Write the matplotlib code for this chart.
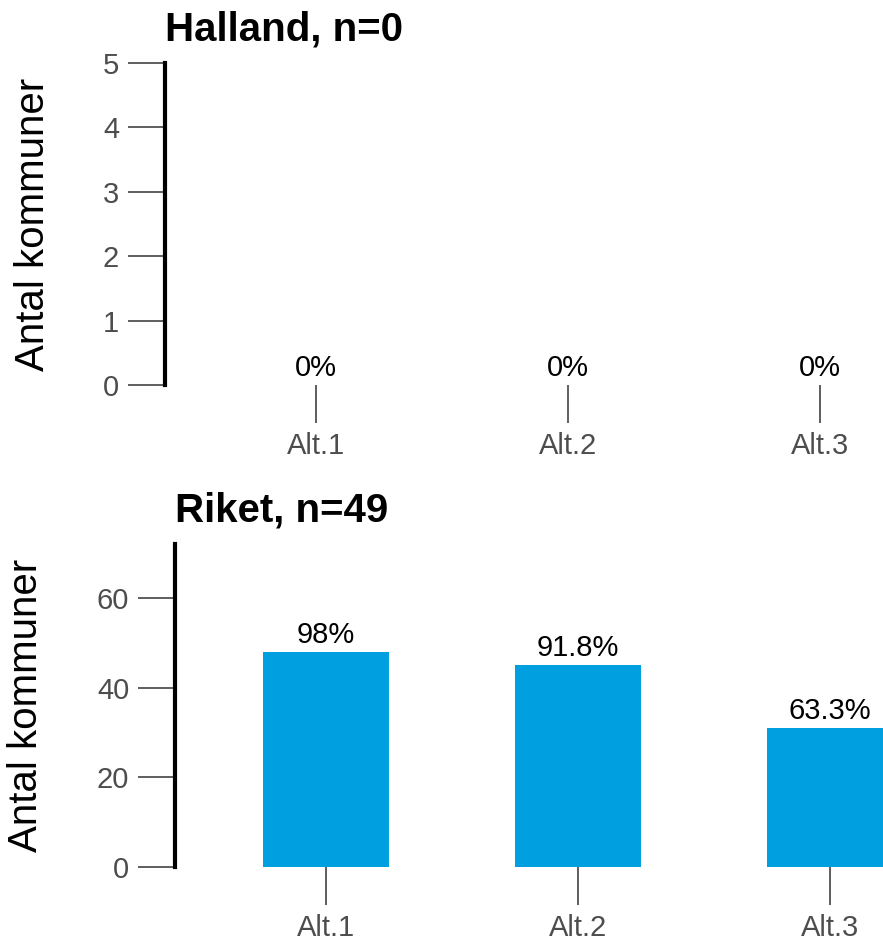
import matplotlib.pyplot as plt

plt.rcParams['font.family'] = ['Liberation Sans', 'DejaVu Sans']

# Data
categories = ["Alt.1", "Alt.2", "Alt.3"]
halland_counts = [0, 0, 0]
halland_pct = ["0%", "0%", "0%"]
riket_counts = [48, 45, 31]
riket_pct = ["98%", "91.8%", "63.3%"]

bar_color = "#009fe0"
tick_color = "#333333"
label_color = "#4d4d4d"

fig = plt.figure(figsize=(8.83, 9.42), dpi=100)
ax1 = fig.add_axes([165 / 883, 1 - 385 / 942, 718 / 883, 322 / 942])
ax2 = fig.add_axes([175 / 883, 1 - 867 / 942, 718 / 883, 323 / 942])


def style_axes(ax, title, ymax, yticks, label_x):
    for side in ["top", "right", "bottom"]:
        ax.spines[side].set_visible(False)
    ax.spines["left"].set_linewidth(3)
    ax.spines["left"].set_color("black")
    ax.set_xlim(-0.6, 2.25)
    ax.set_ylim(0, ymax)
    ax.set_yticks(yticks)
    ax.set_xticks(range(len(categories)))
    ax.set_xticklabels(categories)
    ax.tick_params(axis="both", length=27, width=1.1, color=tick_color,
                   labelcolor=label_color, labelsize=21)
    ax.tick_params(axis="x", pad=7)
    ax.tick_params(axis="y", pad=6)
    ax.set_ylabel("Antal kommuner", fontsize=29, color="black")
    ax.yaxis.set_label_coords(label_x, 0.5)
    ax.set_title(title, loc="left", fontsize=29, fontweight="bold", pad=16)


# Halland
ax1.bar(range(len(categories)), halland_counts, width=0.5, color=bar_color)
for i, (v, p) in enumerate(zip(halland_counts, halland_pct)):
    ax1.annotate(p, (i, v), xytext=(0, 2), textcoords="offset points",
                 ha="center", va="bottom", fontsize=21, color="black")
style_axes(ax1, "Halland, n=0", 5, [0, 1, 2, 3, 4, 5], -0.158)

# Riket
ax2.bar(range(len(categories)), riket_counts, width=0.5, color=bar_color)
for i, (v, p) in enumerate(zip(riket_counts, riket_pct)):
    ax2.annotate(p, (i, v), xytext=(0, 2), textcoords="offset points",
                 ha="center", va="bottom", fontsize=21, color="black")
style_axes(ax2, "Riket, n=49", 72, [0, 20, 40, 60], -0.181)

plt.savefig("out.png", dpi=100)
